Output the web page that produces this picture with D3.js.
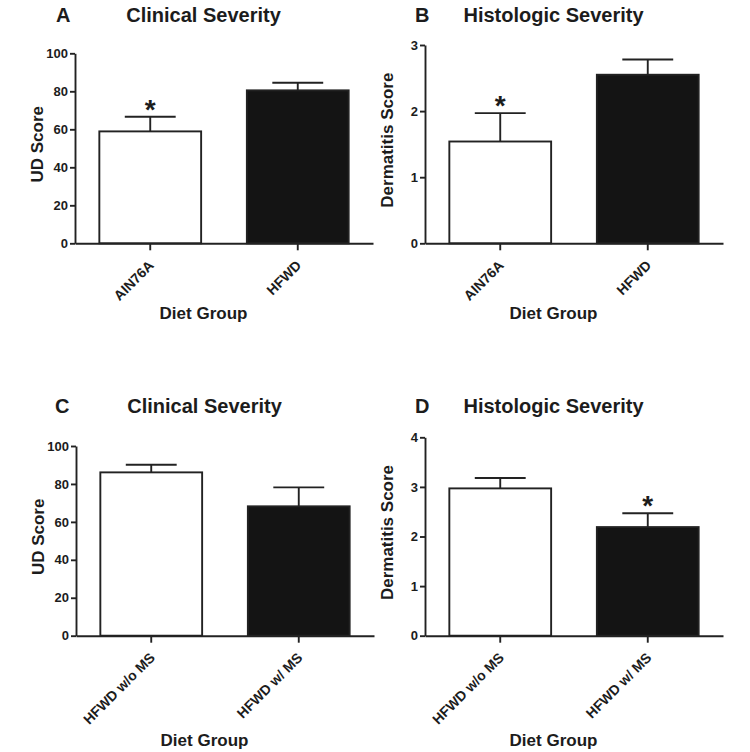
<!DOCTYPE html>
<html>
<head>
<meta charset="utf-8">
<script src="https://cdn.jsdelivr.net/npm/d3@7"></script>
<style>
  html, body { margin: 0; padding: 0; background: #fff; }
  svg { display: block; font-family: "Liberation Sans", Arial, Helvetica, sans-serif; }
  text { font-weight: bold; fill: #1c1c1c; }
</style>
</head>
<body>
<svg id="chart" width="750" height="752"></svg>
<script>
// ---- data ----
const categoriesTop = ["AIN76A", "HFWD"];
const categoriesBottom = ["HFWD w/o MS", "HFWD w/ MS"];

const clinicalTopMean = [58.9, 80.5];
const clinicalTopSEM  = [7.7, 4.0];
const clinicalTopSig  = [true, false];

const histoTopMean = [1.54, 2.55];
const histoTopSEM  = [0.43, 0.23];
const histoTopSig  = [true, false];

const clinicalBottomMean = [86.1, 68.2];
const clinicalBottomSEM  = [4.0, 10.0];
const clinicalBottomSig  = [false, false];

const histoBottomMean = [2.97, 2.19];
const histoBottomSEM  = [0.21, 0.28];
const histoBottomSig  = [false, true];

const clinicalTicks = [0, 20, 40, 60, 80, 100];
const histoTopTicks = [0, 1, 2, 3];
const histoBottomTicks = [0, 1, 2, 3, 4];

const barFills = ["#ffffff", "#141414"];

// ---- layout ----
const panels = [
  { letter: "A", title: "Clinical Severity", ylabel: "UD Score",
    cats: categoriesTop, mean: clinicalTopMean, sem: clinicalTopSEM, sig: clinicalTopSig, ticks: clinicalTicks,
    x0: 75, yTop: 53.3, yBot: 243.3, letterX: 56, titleY: 22, xlabY: 319 },
  { letter: "B", title: "Histologic Severity", ylabel: "Dermatitis Score",
    cats: categoriesTop, mean: histoTopMean, sem: histoTopSEM, sig: histoTopSig, ticks: histoTopTicks,
    x0: 425, yTop: 45, yBot: 243.3, letterX: 415, titleY: 22, xlabY: 319 },
  { letter: "C", title: "Clinical Severity", ylabel: "UD Score",
    cats: categoriesBottom, mean: clinicalBottomMean, sem: clinicalBottomSEM, sig: clinicalBottomSig, ticks: clinicalTicks,
    x0: 76, yTop: 446, yBot: 635.7, letterX: 55, titleY: 413, xlabY: 746 },
  { letter: "D", title: "Histologic Severity", ylabel: "Dermatitis Score",
    cats: categoriesBottom, mean: histoBottomMean, sem: histoBottomSEM, sig: histoBottomSig, ticks: histoBottomTicks,
    x0: 425, yTop: 437.3, yBot: 635.7, letterX: 415, titleY: 413, xlabY: 746 }
];

const svg = d3.select("#chart");
const plotW = 298;
const axisColor = "#222";
const sw = 1.9;

panels.forEach(p => {
  const g = svg.append("g");
  const yMax = p.ticks[p.ticks.length - 1];
  const y = d3.scaleLinear().domain([0, yMax]).range([p.yBot, p.yTop]);
  const x = d3.scaleBand().domain(p.cats).range([p.x0, p.x0 + plotW])
    .paddingInner(0.31).paddingOuter(0.165);

  // bars
  g.selectAll("rect.bar").data(p.cats).join("rect")
    .attr("class", "bar")
    .attr("x", d => x(d))
    .attr("width", x.bandwidth())
    .attr("y", (d, i) => y(p.mean[i]))
    .attr("height", (d, i) => y(0) - y(p.mean[i]))
    .attr("fill", (d, i) => barFills[i])
    .attr("stroke", axisColor)
    .attr("stroke-width", sw);

  // error bars (upper only)
  const capW = x.bandwidth() / 2;
  g.selectAll("line.err").data(p.cats).join("line")
    .attr("class", "err")
    .attr("x1", d => x(d) + x.bandwidth() / 2)
    .attr("x2", d => x(d) + x.bandwidth() / 2)
    .attr("y1", (d, i) => y(p.mean[i]))
    .attr("y2", (d, i) => y(p.mean[i] + p.sem[i]))
    .attr("stroke", axisColor)
    .attr("stroke-width", sw);
  g.selectAll("line.cap").data(p.cats).join("line")
    .attr("class", "cap")
    .attr("x1", d => x(d) + x.bandwidth() / 2 - capW / 2)
    .attr("x2", d => x(d) + x.bandwidth() / 2 + capW / 2)
    .attr("y1", (d, i) => y(p.mean[i] + p.sem[i]))
    .attr("y2", (d, i) => y(p.mean[i] + p.sem[i]))
    .attr("stroke", axisColor)
    .attr("stroke-width", sw);

  // significance asterisks
  g.selectAll("text.sig").data(p.cats.filter((d, i) => p.sig[i])).join("text")
    .attr("class", "sig")
    .attr("x", d => x(d) + x.bandwidth() / 2)
    .attr("y", d => { const i = p.cats.indexOf(d); return y(p.mean[i] + p.sem[i]) + 2; })
    .attr("text-anchor", "middle")
    .style("font-size", "28px")
    .text("*");

  // y axis
  const yAxis = g.append("g")
    .attr("transform", `translate(${p.x0},0)`)
    .call(d3.axisLeft(y).tickValues(p.ticks).tickFormat(d3.format("d")).tickSize(5).tickSizeOuter(0).tickPadding(2));
  yAxis.attr("font-family", null).attr("font-size", null);
  yAxis.select(".domain").attr("stroke", axisColor).attr("stroke-width", sw);
  yAxis.selectAll(".tick line").attr("stroke", axisColor).attr("stroke-width", sw);
  yAxis.selectAll(".tick text")
    .style("font-size", "13px").style("font-weight", "bold")
    .attr("fill", "#1c1c1c");

  // x axis
  const xAxis = g.append("g")
    .attr("transform", `translate(0,${p.yBot})`)
    .call(d3.axisBottom(x).tickSize(7).tickSizeOuter(0));
  xAxis.attr("font-family", null).attr("font-size", null);
  xAxis.select(".domain").attr("stroke", axisColor).attr("stroke-width", sw);
  xAxis.selectAll(".tick line").attr("stroke", axisColor).attr("stroke-width", sw);
  xAxis.selectAll(".tick text")
    .attr("x", 0).attr("y", 0).attr("dy", 0)
    .attr("transform", "translate(4.5,23) rotate(-45)")
    .attr("text-anchor", "end")
    .style("font-size", "14px").style("font-weight", "bold")
    .attr("fill", "#1c1c1c");

  const cx = p.x0 + 128.5;

  // panel letter and title
  g.append("text")
    .attr("x", p.letterX).attr("y", p.titleY)
    .style("font-size", "20px")
    .text(p.letter);
  g.append("text")
    .attr("x", cx).attr("y", p.titleY)
    .attr("text-anchor", "middle")
    .style("font-size", "20px")
    .text(p.title);

  // y label
  const cy = (p.yTop + p.yBot) / 2 - 4;
  g.append("text")
    .attr("transform", `translate(${p.x0 - 32.5},${cy}) rotate(-90)`)
    .attr("text-anchor", "middle")
    .style("font-size", "17px")
    .text(p.ylabel);

  // x label
  g.append("text")
    .attr("x", cx).attr("y", p.xlabY)
    .attr("text-anchor", "middle")
    .style("font-size", "17px")
    .text("Diet Group");
});
</script>
</body>
</html>
